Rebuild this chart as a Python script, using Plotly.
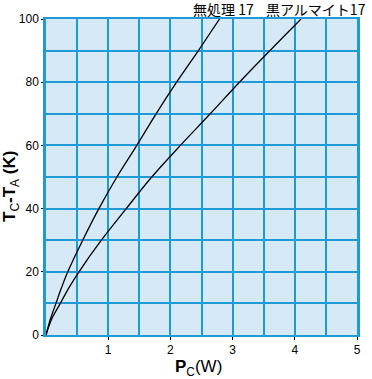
import plotly.graph_objects as go

# Data
temp_rise = [0, 5, 10, 15, 20, 30, 40, 50, 60, 70, 80, 90, 100]
power_untreated = [0, 0.07, 0.16, 0.25, 0.35, 0.59, 0.85, 1.14, 1.46, 1.77, 2.10, 2.45, 2.79]
power_black_alumite = [0, 0.09, 0.23, 0.37, 0.53, 0.89, 1.29, 1.70, 2.16, 2.64, 3.11, 3.60, 4.10]
series_names = ["無処理 17", "黒アルマイト17"]
x_ticks = [1, 2, 3, 4, 5]
y_ticks = [0, 20, 40, 60, 80, 100]

BLUE = "rgb(30,155,215)"
FILL = "rgb(214,233,246)"
FONT = "Liberation Sans, Arial, sans-serif"
CJK = "Noto Sans CJK JP, sans-serif"

fig = go.Figure()
for xs, name in [(power_untreated, series_names[0]), (power_black_alumite, series_names[1])]:
    fig.add_trace(go.Scatter(x=xs, y=temp_rise, mode="lines", name=name,
                             line=dict(color="black", width=1.3, shape="spline", smoothing=1.0),
                             showlegend=False, hoverinfo="skip"))

fig.update_layout(
    width=372, height=379,
    margin=dict(l=46, r=11, t=19, b=44),
    paper_bgcolor="white", plot_bgcolor=FILL,
    font=dict(family=FONT, size=12, color="black"),
)
fig.update_xaxes(
    range=[0, 5], tickvals=x_ticks, ticktext=[str(v) for v in x_ticks],
    showgrid=True, gridcolor=BLUE, gridwidth=1.5,
    minor=dict(dtick=0.5, tick0=0, showgrid=True, gridcolor=BLUE, gridwidth=1.5, ticks=""),
    ticks="outside", ticklen=3, tickcolor="black", tickwidth=1,
    showline=True, linecolor=BLUE, linewidth=2, mirror=True,
    zeroline=False, fixedrange=True, tickfont=dict(size=12, family=FONT),
)
fig.update_yaxes(
    range=[0, 100], tickvals=y_ticks, ticktext=[str(v) for v in y_ticks],
    showgrid=True, gridcolor=BLUE, gridwidth=1.5,
    minor=dict(dtick=10, tick0=0, showgrid=True, gridcolor=BLUE, gridwidth=1.5, ticks=""),
    ticks="outside", ticklen=2, tickcolor="black", tickwidth=1,
    showline=True, linecolor=BLUE, linewidth=2.5, mirror=True,
    zeroline=False, fixedrange=True, tickfont=dict(size=12, family=FONT),
)

# Series labels at curve ends
fig.add_annotation(x=0.468, y=0.998, xref="paper", yref="paper", xanchor="left", yanchor="bottom",
                   text=series_names[0], showarrow=False, borderpad=0,
                   font=dict(family=CJK, size=14, color="black"))
fig.add_annotation(x=0.703, y=0.998, xref="paper", yref="paper", xanchor="left", yanchor="bottom",
                   text=series_names[1], showarrow=False, borderpad=0,
                   font=dict(family=CJK, size=14, color="black"))

# Axis titles
fig.add_annotation(x=-0.111, y=0.47, xref="paper", yref="paper", xanchor="center", yanchor="middle",
                   textangle=-90, showarrow=False,
                   text="<b>T</b><sub>C</sub><b>-T</b><sub>A</sub><b> (K)</b>",
                   font=dict(family=FONT, size=17, color="black"))
fig.add_annotation(x=0.49, y=-0.104, xref="paper", yref="paper", xanchor="center", yanchor="middle",
                   showarrow=False, text="<b>P</b><sub>C</sub>(W)",
                   font=dict(family=FONT, size=17, color="black"))

fig.write_html("out.html", config={"displayModeBar": False},
               post_script="document.body.style.margin='0';document.body.style.padding='0';")
